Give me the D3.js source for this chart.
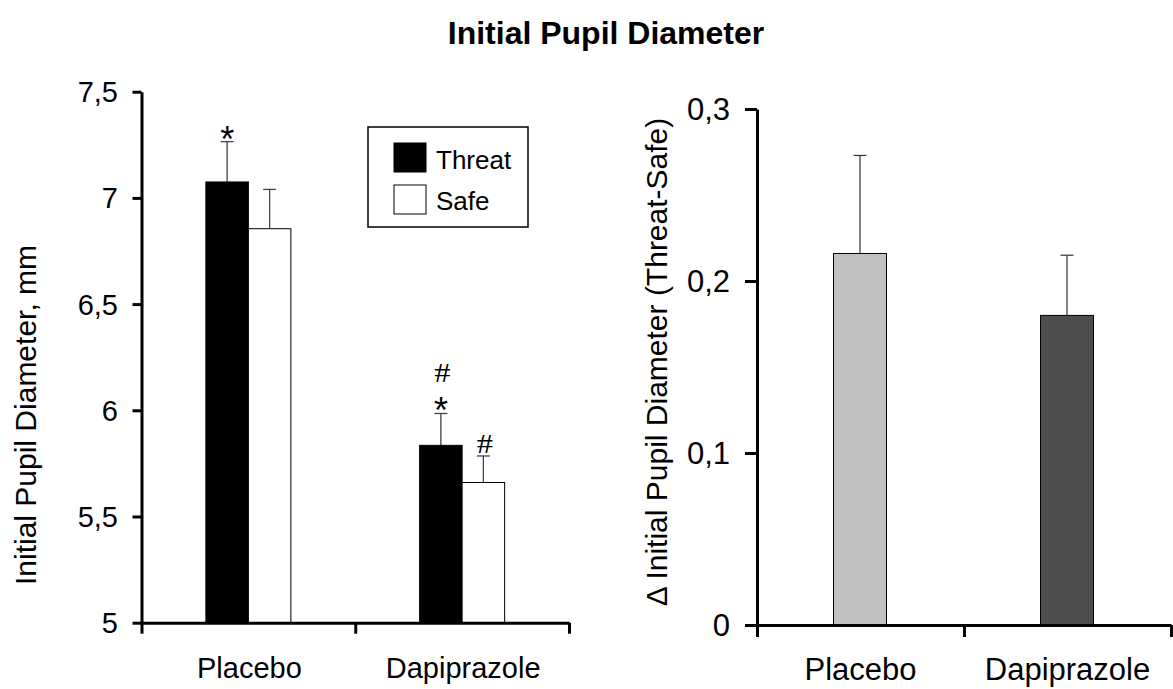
<!DOCTYPE html>
<html>
<head>
<meta charset="utf-8">
<script src="https://cdn.jsdelivr.net/npm/d3@7"></script>
<style>
  html, body { margin: 0; padding: 0; background: #fff; }
  svg { display: block; font-family: "Liberation Sans", Arial, sans-serif; }
</style>
</head>
<body>
<div id="viewportContainer"></div>
<script>
/* --- データ --- */
const groups = ["Placebo", "Dapiprazole"];
const conditions = ["Threat", "Safe"];

// 左パネル（平均 ± SEM）
const threatMean = [7.075, 5.835];
const threatErr  = [0.19, 0.15];
const safeMean   = [6.855, 5.66];
const safeErr    = [0.185, 0.125];
const leftTicks  = [5, 5.5, 6, 6.5, 7, 7.5];

// 有意差マーク（バーごと、上から）
const threatMarks = [["*"], ["#", "*"]];
const safeMarks   = [[], ["#"]];

// 右パネル（Threat - Safe）
const deltaMean  = [0.216, 0.180];
const deltaErr   = [0.057, 0.035];
const rightTicks = [0, 0.1, 0.2, 0.3];
const deltaColors = ["#c0c0c0", "#4d4d4d"];

const condColors = {Threat: "#000000", Safe: "#ffffff"};

/* --- ビューポート --- */
const viewport = {width: 1173, height: 689};

const svg = d3.select("#viewportContainer")
    .append("svg")
    .attr("width", viewport.width)
    .attr("height", viewport.height);

const fmt = function(d) { return String(d).replace(".", ","); };

// 文字を描くヘルパー
let drawText = function(g, x, y, str, o) {
    o = o || {};
    return g.append("text")
        .attr("transform", "translate(" + x + "," + y + ") rotate(" + (o.rotate || 0) + ") scale(" + (o.sx || 1) + ",1)")
        .attr("text-anchor", o.anchor || "middle")
        .attr("dy", o.dy || 0)
        .style("font-size", (o.size || 24) + "px")
        .style("font-weight", o.weight || "normal")
        .style("font-family", o.family || null)
        .attr("fill", "#000")
        .text(str);
};

/* --- タイトル --- */
drawText(svg, 606, 44, "Initial Pupil Diameter", {size: 32, weight: "bold"});

/* ================= 左パネル ================= */
const L = {x0: 141.5, x1: 569, y0: 622.7, y1: 91.7};

const yLeft = d3.scaleLinear().domain([5, 7.5]).range([L.y0, L.y1]);
const xLeft = d3.scaleBand().domain(groups).range([L.x0, L.x1]);
const xLeftCond = d3.scaleBand().domain(conditions).range([0, 85]);
const leftG = svg.append("g");

// バー
const leftRows = [];
groups.forEach(function(g, i) {
    leftRows.push({group: g, cond: "Threat", mean: threatMean[i], err: threatErr[i], marks: threatMarks[i]});
    leftRows.push({group: g, cond: "Safe", mean: safeMean[i], err: safeErr[i], marks: safeMarks[i]});
});
const barX = function(d) {
    return xLeft(d.group) + (xLeft.bandwidth() - 85) / 2 + xLeftCond(d.cond);
};

// 誤差棒
leftRows.forEach(function(d) {
    const cx = barX(d) + xLeftCond.bandwidth() / 2;
    leftG.append("line")
        .attr("x1", cx).attr("x2", cx)
        .attr("y1", yLeft(d.mean)).attr("y2", yLeft(d.mean + d.err))
        .attr("stroke", "#444").attr("stroke-width", 1.3);
    leftG.append("line")
        .attr("x1", cx - 6.5).attr("x2", cx + 6.5)
        .attr("y1", yLeft(d.mean + d.err)).attr("y2", yLeft(d.mean + d.err))
        .attr("stroke", "#444").attr("stroke-width", 1.3);
});

leftG.selectAll(".bar")
    .data(leftRows)
    .enter().append("rect")
    .attr("class", "bar")
    .attr("x", barX)
    .attr("width", xLeftCond.bandwidth())
    .attr("y", function(d) { return yLeft(d.mean); })
    .attr("height", function(d) { return yLeft(5) - yLeft(d.mean); })
    .attr("fill", function(d) { return condColors[d.cond]; })
    .attr("stroke", "#000")
    .attr("stroke-width", 1);

// 有意差マーク
leftRows.forEach(function(d) {
    const cx = barX(d) + xLeftCond.bandwidth() / 2;
    const top = yLeft(d.mean + d.err);
    const n = d.marks.length;
    d.marks.forEach(function(m, k) {
        const fromBottom = n - 1 - k;
        if (m === "*") {
            drawText(leftG, cx, top + 10 - fromBottom * 30, "*", {size: 36});
        } else {
            drawText(leftG, cx + 1.5, top - 3 - fromBottom * 28, "#",
                {size: 27, sx: 1.2, family: "'Liberation Serif', serif"});
        }
    });
});

// 軸
const leftAxisY = leftG.append("g")
    .attr("transform", "translate(" + L.x0 + ",0)")
    .call(d3.axisLeft(yLeft).tickValues(leftTicks).tickSize(9).tickSizeOuter(0).tickFormat(""));

const leftIdx = d3.scaleLinear().domain([0, groups.length]).range([L.x0, L.x1]);
const leftAxisX = leftG.append("g")
    .attr("transform", "translate(0," + L.y0 + ")")
    .call(d3.axisBottom(leftIdx).tickValues(d3.range(groups.length + 1)).tickSize(11).tickSizeOuter(0).tickFormat(""));

[leftAxisY, leftAxisX].forEach(function(a) {
    a.selectAll("path, line").attr("stroke", "#000").attr("stroke-width", 3);
});

leftTicks.forEach(function(t) {
    drawText(leftG, 118, yLeft(t), fmt(t), {size: 29, anchor: "end", dy: "0.36em"});
});
groups.forEach(function(g) {
    drawText(leftG, xLeft(g) + xLeft.bandwidth() / 2 + 1, 678, g, {size: 29});
});

drawText(leftG, 36, 415, "Initial Pupil Diameter, mm", {size: 30, rotate: -90});

// 凡例
const legendG = leftG.append("g").attr("transform", "translate(368,127)");
legendG.append("rect")
    .attr("width", 160).attr("height", 100)
    .attr("fill", "#fff").attr("stroke", "#000").attr("stroke-width", 1.5);
conditions.forEach(function(c, i) {
    legendG.append("rect")
        .attr("x", 26).attr("y", 16 + i * 42)
        .attr("width", 32).attr("height", 29)
        .attr("fill", condColors[c]).attr("stroke", "#000").attr("stroke-width", 1);
    drawText(legendG, 68, 42 + i * 41, c, {size: 26, anchor: "start"});
});

/* ================= 右パネル ================= */
const R = {x0: 757, x1: 1171, y0: 625, y1: 109};

const yRight = d3.scaleLinear().domain([0, 0.3]).range([R.y0, R.y1]);
const xRight = d3.scaleBand().domain(groups).range([R.x0, R.x1]);
const rightG = svg.append("g");
const barW = 53;

groups.forEach(function(g, i) {
    const cx = xRight(g) + xRight.bandwidth() / 2 - 0.5;
    rightG.append("line")
        .attr("x1", cx).attr("x2", cx)
        .attr("y1", yRight(deltaMean[i])).attr("y2", yRight(deltaMean[i] + deltaErr[i]))
        .attr("stroke", "#333").attr("stroke-width", 1.2);
    rightG.append("line")
        .attr("x1", cx - 6.5).attr("x2", cx + 6.5)
        .attr("y1", yRight(deltaMean[i] + deltaErr[i])).attr("y2", yRight(deltaMean[i] + deltaErr[i]))
        .attr("stroke", "#333").attr("stroke-width", 1.2);
});

rightG.selectAll(".dbar")
    .data(groups)
    .enter().append("rect")
    .attr("class", "dbar")
    .attr("x", function(d) { return xRight(d) + (xRight.bandwidth() - barW) / 2 - 0.5; })
    .attr("width", barW)
    .attr("y", function(d, i) { return yRight(deltaMean[i]); })
    .attr("height", function(d, i) { return yRight(0) - yRight(deltaMean[i]); })
    .attr("fill", function(d, i) { return deltaColors[i]; })
    .attr("stroke", "#000")
    .attr("stroke-width", 1);

const rightAxisY = rightG.append("g")
    .attr("transform", "translate(" + R.x0 + ",0)")
    .call(d3.axisLeft(yRight).tickValues(rightTicks).tickSize(12).tickSizeOuter(0).tickFormat(""));

const rightIdx = d3.scaleLinear().domain([0, groups.length]).range([R.x0, R.x1]);
const rightAxisX = rightG.append("g")
    .attr("transform", "translate(0," + R.y0 + ")")
    .call(d3.axisBottom(rightIdx).tickValues(d3.range(groups.length + 1)).tickSize(12).tickSizeOuter(0).tickFormat(""));

[rightAxisY, rightAxisX].forEach(function(a) {
    a.selectAll("path, line").attr("stroke", "#000").attr("stroke-width", 3);
});

rightTicks.forEach(function(t) {
    drawText(rightG, 730, yRight(t), fmt(t), {size: 31, anchor: "end", dy: "0.36em"});
});
groups.forEach(function(g) {
    drawText(rightG, xRight(g) + xRight.bandwidth() / 2, 680, g, {size: 31});
});

drawText(rightG, 667, 362, "\u0394 Initial Pupil Diameter (Threat-Safe)", {size: 30, rotate: -90});
</script>
</body>
</html>
